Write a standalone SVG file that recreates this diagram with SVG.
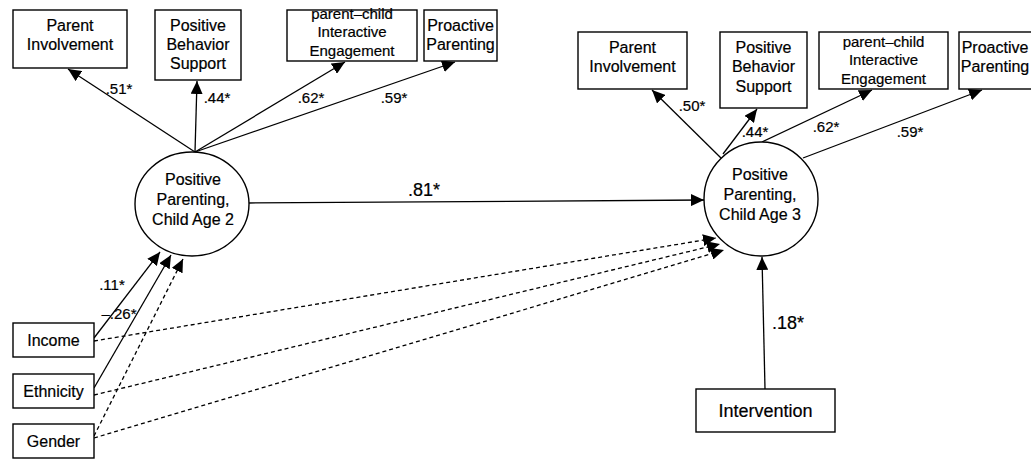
<svg xmlns="http://www.w3.org/2000/svg" width="1031" height="460" viewBox="0 0 1031 460">
<style>
  .box{fill:#fff;stroke:#000;stroke-width:1.4}
  .lat{fill:#fff;stroke:#000;stroke-width:1.4}
  text{font-family:"Liberation Sans",Arial,sans-serif;fill:#000;stroke:#000;stroke-width:0.2}
  .t{font-size:16px;text-anchor:middle}
  .s{font-size:15px;text-anchor:middle}
  .l{font-size:15px;text-anchor:middle}
  .b{font-size:18px;text-anchor:middle}
  .c line{stroke:#000;stroke-width:1.3;marker-end:url(#ah)}
  .c line.d{stroke-dasharray:4,3}
</style>
<defs>
  <marker id="ah" markerUnits="userSpaceOnUse" markerWidth="14" markerHeight="12" refX="13" refY="6" orient="auto">
    <path d="M0,0 L13,6 L0,12 Z" fill="#000"/>
  </marker>
</defs>
<rect width="1031" height="460" fill="#fff"/>
<g class="c" id="connectors">
  <line x1="195" y1="152" x2="68" y2="69"/>
  <line x1="195" y1="152" x2="197" y2="81"/>
  <line x1="195" y1="152" x2="345" y2="62"/>
  <line x1="195" y1="152" x2="455" y2="62"/>
  <line x1="722" y1="159" x2="652" y2="90"/>
  <line x1="723" y1="154" x2="757" y2="109"/>
  <line x1="762" y1="142" x2="872" y2="90"/>
  <line x1="803" y1="158" x2="982" y2="90"/>
  <line x1="249" y1="203" x2="704" y2="200"/>
  <line x1="94" y1="338" x2="160" y2="252"/>
  <line x1="94" y1="388" x2="171" y2="255"/>
  <line class="d" x1="94" y1="436" x2="183" y2="259"/>
  <line class="d" x1="94" y1="341" x2="716" y2="238"/>
  <line class="d" x1="94" y1="395" x2="720" y2="244"/>
  <line class="d" x1="94" y1="438" x2="724" y2="250"/>
  <line x1="765" y1="389" x2="762" y2="257"/>
</g>
<g id="labels">
  <text class="l" x="119" y="94">.51*</text>
  <text class="l" x="217" y="103">.44*</text>
  <text class="l" x="311" y="103">.62*</text>
  <text class="l" x="394" y="103">.59*</text>
  <text class="l" x="692" y="111">.50*</text>
  <text class="l" x="755" y="137">.44*</text>
  <text class="l" x="826" y="132">.62*</text>
  <text class="l" x="910" y="137">.59*</text>
  <text class="b" x="424" y="196">.81*</text>
  <text class="l" x="112" y="290">.11*</text>
  <text class="l" x="119" y="319">–.26*</text>
  <text class="b" x="788" y="329">.18*</text>
</g>
<g id="l-pi">
  <rect class="box" x="13" y="10" width="114" height="58"/>
  <text class="t" x="70" y="31">Parent</text>
  <text class="t" x="70" y="50">Involvement</text>
</g>
<g id="l-pbs">
  <rect class="box" x="155" y="10" width="86" height="70"/>
  <text class="t" x="198" y="31">Positive</text>
  <text class="t" x="198" y="50">Behavior</text>
  <text class="t" x="198" y="69">Support</text>
</g>
<g id="l-pcie">
  <rect class="box" x="287" y="10" width="130" height="51"/>
  <text class="s" x="352" y="19">parent–child</text>
  <text class="s" x="352" y="37">Interactive</text>
  <text class="s" x="352" y="56">Engagement</text>
</g>
<g id="l-pp">
  <rect class="box" x="424" y="10" width="73" height="51"/>
  <text class="t" x="460.500" y="31">Proactive</text>
  <text class="t" x="460.500" y="50">Parenting</text>
</g>
<g id="r-pi">
  <rect class="box" x="578" y="32" width="109" height="57"/>
  <text class="t" x="632.500" y="53">Parent</text>
  <text class="t" x="632.500" y="72">Involvement</text>
</g>
<g id="r-pbs">
  <rect class="box" x="720" y="32" width="87" height="76"/>
  <text class="t" x="763.500" y="53">Positive</text>
  <text class="t" x="763.500" y="72">Behavior</text>
  <text class="t" x="763.500" y="92">Support</text>
</g>
<g id="r-pcie">
  <rect class="box" x="819" y="32" width="129" height="57"/>
  <text class="s" x="883.500" y="47">parent–child</text>
  <text class="s" x="883.500" y="65">Interactive</text>
  <text class="s" x="883.500" y="84">Engagement</text>
</g>
<g id="r-pp">
  <rect class="box" x="959" y="32" width="80" height="57"/>
  <text class="t" x="995" y="53">Proactive</text>
  <text class="t" x="995" y="72">Parenting</text>
</g>
<g id="pp2">
  <ellipse class="lat" cx="192" cy="204" rx="57" ry="52"/>
  <text class="t" x="193" y="185">Positive</text>
  <text class="t" x="193" y="205">Parenting,</text>
  <text class="t" x="193" y="225">Child Age 2</text>
</g>
<g id="pp3">
  <ellipse class="lat" cx="761" cy="199" rx="57" ry="57"/>
  <text class="t" x="760" y="180">Positive</text>
  <text class="t" x="760" y="200">Parenting,</text>
  <text class="t" x="760" y="220">Child Age 3</text>
</g>
<g id="income">
  <rect class="box" x="13" y="323" width="81" height="34"/>
  <text class="t" x="53.500" y="346">Income</text>
</g>
<g id="ethnicity">
  <rect class="box" x="13" y="374" width="81" height="34"/>
  <text class="t" x="53.500" y="397">Ethnicity</text>
</g>
<g id="gender">
  <rect class="box" x="13" y="424" width="81" height="34"/>
  <text class="t" x="53.500" y="447">Gender</text>
</g>
<g id="intervention">
  <rect class="box" x="696" y="389" width="139" height="43"/>
  <text class="b" x="765.500" y="417">Intervention</text>
</g>
</svg>
